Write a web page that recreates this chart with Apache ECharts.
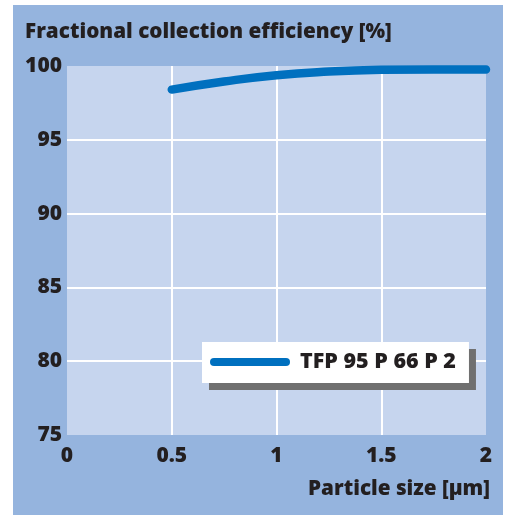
<!DOCTYPE html>
<html>
<head>
<meta charset="utf-8">
<script src="https://cdn.jsdelivr.net/npm/echarts@6/dist/echarts.min.js"></script>
<style>
  html, body { margin: 0; padding: 0; background: #fff; }
  #chart { width: 506px; height: 515px; }
</style>
</head>
<body>
<div id="chart"></div>
<script>
var particleSize = [0.5, 0.75, 1, 1.25, 1.5, 1.75, 2];
var efficiency = [98.4, 98.95, 99.38, 99.62, 99.74, 99.77, 99.76];
var seriesName = 'TFP 95 P 66 P 2';
var titleText = 'Fractional collection efficiency [%]';
var xName = 'Particle size [\u00b5m]';

var fontFam = '"Open Sans", Lato, sans-serif';
var ink = '#231f20';

var myChart = echarts.init(document.getElementById('chart'));
var option = {
    backgroundColor: '#ffffff',
    animation: false,
    graphic: [{
        type: 'rect',
        z: -10,
        shape: { x: 13, y: 5, width: 490, height: 510 },
        style: { fill: '#95b4de' }
    }],
    title: {
        text: titleText,
        left: 20,
        top: 17,
        textStyle: { fontFamily: fontFam, fontWeight: 800, fontSize: 20.7, color: ink }
    },
    grid: {
        left: 67, right: 20, top: 66, bottom: 80,
        show: true,
        backgroundColor: '#c6d5ee',
        borderWidth: 0
    },
    legend: {
        data: [{ name: seriesName, icon: 'path://M4,0 H76 A4,4 0 0 1 76,8 H4 A4,4 0 0 1 4,0 Z' }],
        left: 202,
        top: 342,
        itemWidth: 80,
        itemHeight: 8,
        padding: [9, 13, 10, 8],
        backgroundColor: '#ffffff',
        shadowColor: '#707070',
        shadowOffsetX: 7,
        shadowOffsetY: 7,
        shadowBlur: 0,
        textStyle: { fontFamily: fontFam, fontWeight: 800, fontSize: 21.5, color: ink, padding: [0, 0, 0, 5] }
    },
    xAxis: {
        type: 'value',
        min: 0, max: 2, interval: 0.5,
        name: xName,
        nameLocation: 'end',
        nameGap: 4,
        nameTextStyle: {
            fontFamily: fontFam, fontWeight: 800, fontSize: 20.7, color: ink,
            align: 'right', verticalAlign: 'top', padding: [44, 0, 0, 0]
        },
        axisLine: { show: false },
        axisTick: { show: false },
        axisLabel: { margin: 11, fontFamily: fontFam, fontWeight: 800, fontSize: 21, color: ink },
        splitLine: { show: true, showMinLine: false, showMaxLine: false, lineStyle: { color: '#ffffff', width: 2 } }
    },
    yAxis: {
        type: 'value',
        min: 75, max: 100, interval: 5,
        axisLine: { show: false },
        axisTick: { show: false },
        axisLabel: { margin: 5, fontFamily: fontFam, fontWeight: 800, fontSize: 21, color: ink },
        splitLine: { show: true, showMinLine: false, showMaxLine: false, lineStyle: { color: '#ffffff', width: 2 } }
    },
    series: [{
        name: seriesName,
        type: 'line',
        smooth: true,
        showSymbol: false,
        clip: false,
        data: particleSize.map(function (x, i) { return [x, efficiency[i]]; }),
        itemStyle: { color: '#0070bf' },
        lineStyle: { color: '#0070bf', width: 8.5, cap: 'round' }
    }]
};
myChart.setOption(option);
</script>
</body>
</html>
